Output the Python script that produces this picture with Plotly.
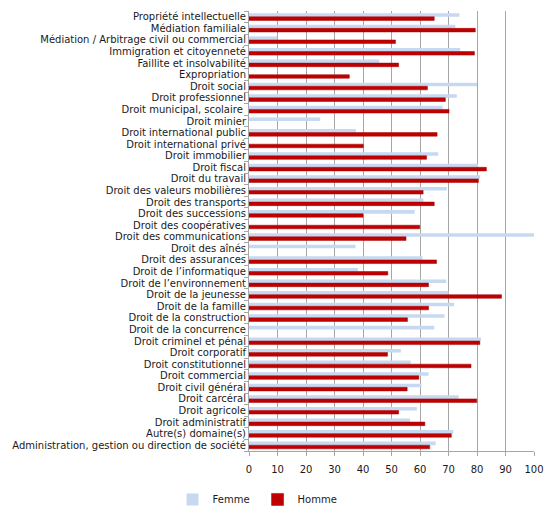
import plotly.graph_objects as go

# domaines de pratique, du haut vers le bas
domaines = [
    "Propriété intellectuelle",
    "Médiation familiale",
    "Médiation / Arbitrage civil ou commercial",
    "Immigration et citoyenneté",
    "Faillite et insolvabilité",
    "Expropriation",
    "Droit social",
    "Droit professionnel",
    "Droit municipal, scolaire ",
    "Droit minier",
    "Droit international public",
    "Droit international privé",
    "Droit immobilier",
    "Droit fiscal",
    "Droit du travail",
    "Droit des valeurs mobilières",
    "Droit des transports",
    "Droit des successions",
    "Droit des coopératives",
    "Droit des communications",
    "Droit des aînés",
    "Droit des assurances",
    "Droit de l’informatique",
    "Droit de l’environnement",
    "Droit de la jeunesse",
    "Droit de la famille",
    "Droit de la construction",
    "Droit de la concurrence",
    "Droit criminel et pénal",
    "Droit corporatif",
    "Droit constitutionnel",
    "Droit commercial",
    "Droit civil général",
    "Droit carcéral",
    "Droit agricole",
    "Droit administratif",
    "Autre(s) domaine(s)",
    "Administration, gestion ou direction de société",
]

femme = [73.8, 72.4, 9.9, 74.1, 45.7, None, 80.0, 72.9, 67.9, 25.0,
         37.5, None, 66.4, 80.4, 81.1, 69.4, 61.2, 58.1, None, 100.0,
         37.4, 60.9, 38.2, 69.2, 70.0, 72.0, 68.6, 65.0, 81.4, 53.3,
         56.7, 63.0, 60.5, 73.6, 58.9, 56.5, 71.7, 65.5]

homme = [65.0, 79.4, 51.4, 79.1, 52.5, 35.2, 62.6, 68.9, 70.2, None,
         66.0, 40.1, 62.3, 83.3, 80.5, 61.1, 65.0, 40.0, 59.9, 55.1,
         None, 65.8, 48.7, 63.0, 88.6, 63.0, 55.6, None, 81.0, 48.6,
         77.9, 59.6, 55.5, 79.9, 52.5, 61.7, 71.0, 63.4]

fig = go.Figure()
fig.add_trace(go.Bar(y=domaines, x=femme, name="Femme", orientation="h",
                     marker=dict(color="#C6D9F1", line_width=0)))
fig.add_trace(go.Bar(y=domaines, x=homme, name="Homme", orientation="h",
                     marker=dict(color="#C00000", line=dict(color="#A00000", width=0.5))))

fig.update_layout(
    width=560, height=518,
    margin=dict(l=241, r=34, t=3, b=75),
    barmode="group", bargap=0.38, bargroupgap=0,
    plot_bgcolor="white", paper_bgcolor="white",
    font=dict(family="DejaVu Sans", size=10, color="#1A1A1A"),
    legend=dict(orientation="h", x=0.03, xanchor="center", y=-0.11, yanchor="middle",
                font=dict(size=10), itemwidth=30, entrywidth=40,
                traceorder="normal"),
    xaxis=dict(range=[0, 100], dtick=10, showgrid=True, gridcolor="#A6A6A6",
               gridwidth=1, zeroline=False, showline=True, linecolor="#A6A6A6",
               ticks="outside", ticklen=4, tickcolor="#A6A6A6",
               ticklabelstandoff=5, fixedrange=True),
    yaxis=dict(autorange="reversed", showline=True, linecolor="#A6A6A6",
               tickmode="array", tickvals=domaines, ticktext=domaines,
               ticks="outside", ticklen=4, tickcolor="#A6A6A6",
               tickson="boundaries", showgrid=False, fixedrange=True),
)

fig.write_html("out.html")
